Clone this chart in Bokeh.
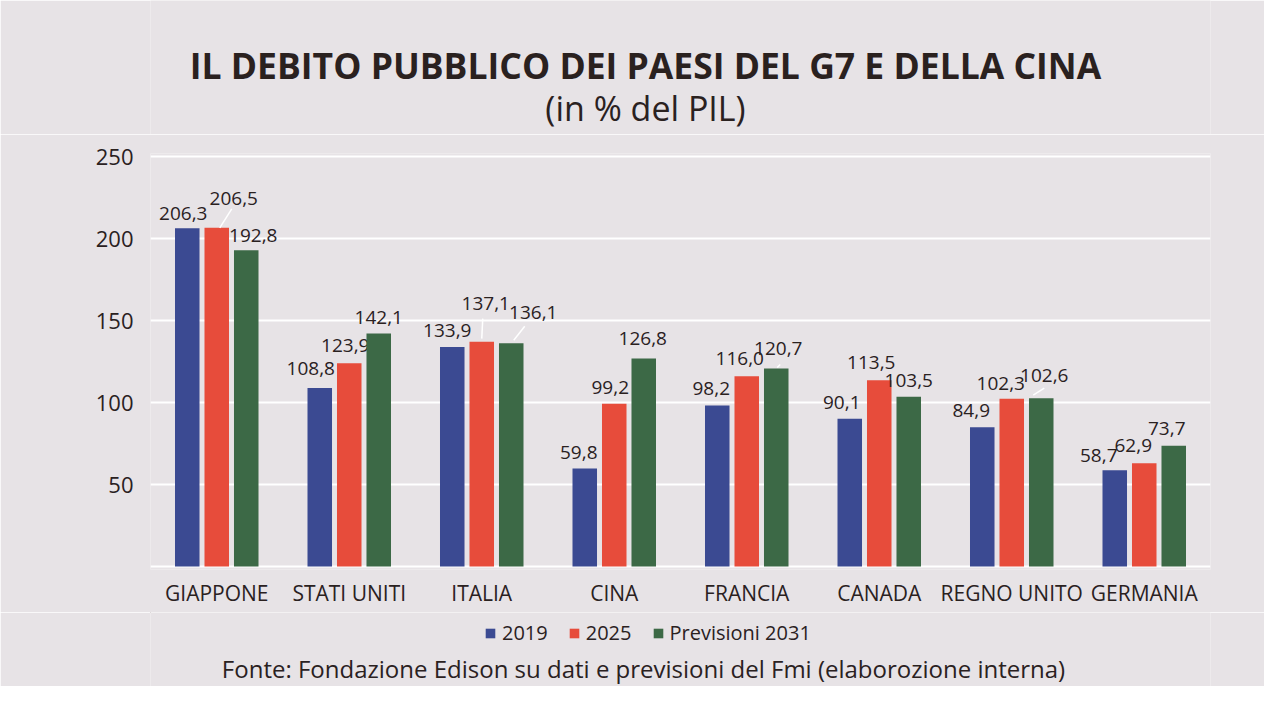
from bokeh.plotting import figure
from bokeh.models import ColumnDataSource, Range1d, FixedTicker, Legend, LegendItem, Label
from bokeh.layouts import column
from bokeh.core.properties import value
from bokeh.embed import file_html
from bokeh.resources import INLINE

# ---------------- data ----------------
countries = ["GIAPPONE", "STATI UNITI", "ITALIA", "CINA", "FRANCIA", "CANADA", "REGNO UNITO", "GERMANIA"]
series_names = ["2019", "2025", "Previsioni 2031"]
debt_2019 = [206.3, 108.8, 133.9, 59.8, 98.2, 90.1, 84.9, 58.7]
debt_2025 = [206.5, 123.9, 137.1, 99.2, 116.0, 113.5, 102.3, 62.9]
debt_2031 = [192.8, 142.1, 136.1, 126.8, 120.7, 103.5, 102.6, 73.7]
y_ticks = [0, 50, 100, 150, 200, 250]

title_text = "IL DEBITO PUBBLICO DEI PAESI DEL G7 E DELLA CINA"
subtitle_text = "(in % del PIL)"
source_text = "Fonte: Fondazione Edison su dati e previsioni del Fmi (elaborozione interna)"

# ---------------- style ----------------
BG = "#e7e3e6"
TXT = "#2a211f"
COLORS = ["#3b4a92", "#e74c3b", "#3c6946"]
FONT = "Open Sans"

W = 1264
H0, H1, H2 = 134, 478, 74                # title strip / main chart / legend+source strip
PAD = 3                                  # px of room around the 0 / 250 gridlines
FL, FR = 150, 54
FT = 156 - H0 - PAD
FB = H0 + H1 - 566 - PAD
FRAME_W = W - FL - FR
FRAME_H = H1 - FT - FB
YMAX = 250
PX_Y = YMAX / (FRAME_H - 2 * PAD)        # data units per px (y)
PX_X = len(countries) / FRAME_W          # data units per px (x)

BAR_OFFSETS = [-0.2226, 0.0, 0.2226]
BAR_WIDTH = 0.185

# label nudges in px (dx right, dy up) relative to default (centered, 16px above bar top)
NUDGES = [
    [(-4, -1), (-9, 4), (-5, 0), (-6, 0), (-6, 1), (-8, 0), (-11, 1), (-16, -1)],
    [(17, 13), (-4, 2), (4, 22), (-4, 0), (-7, 2), (-8, 2), (-11, -1), (-11, 2)],
    [(7, -1), (0, 0), (22, 15), (-1, 4), (2, 4), (0, 0), (3, 7), (-7, 1)],
]
# leader lines: (series, country, dx0, dy0, dx1, dy1) in px from bar top center
LEADERS = [
    (1, 0, 3, 0, 15, 19),
    (1, 2, 0, 3, 1, 23),
    (2, 2, 2.5, 3, 13.5, 17),
    (2, 4, 1, 1, 4, 4),
    (2, 6, -8, 3, 3, 10),
]


def strip(height, top):
    """A text-only band whose frame spans the chart frame columns; data x/y == page px."""
    f = figure(width=W, height=height, output_backend="svg", toolbar_location=None,
               x_range=Range1d(FL, W - FR), y_range=Range1d(top + height, top),
               x_axis_type=None, y_axis_type=None,
               min_border_left=FL, min_border_right=FR, min_border_top=0, min_border_bottom=0)
    f.background_fill_color = BG
    f.border_fill_color = BG
    f.outline_line_color = None
    f.grid.visible = False
    return f


# ---------------- title strip ----------------
p0 = strip(H0, 0)
p0.add_layout(Label(x=645, y=64, text=title_text, text_align="center", text_baseline="middle",
                    text_font=FONT, text_font_style="bold", text_font_size="35.5px", text_color=TXT))
p0.add_layout(Label(x=645, y=107, text=subtitle_text, text_align="center", text_baseline="middle",
                    text_font=FONT, text_font_size="34px", text_color=TXT))

# ---------------- main chart ----------------
p = figure(width=W, height=H1, output_backend="svg", toolbar_location=None,
           x_range=Range1d(0, len(countries)),
           y_range=Range1d(-PAD * PX_Y, YMAX + PAD * PX_Y),
           min_border_left=FL, min_border_right=FR, min_border_top=FT, min_border_bottom=FB)
p.background_fill_color = BG
p.border_fill_color = BG
p.outline_line_color = None

centers = [i + 0.5 for i in range(len(countries))]
all_series = [debt_2019, debt_2025, debt_2031]

for s, vals in enumerate(all_series):
    xs = [c + BAR_OFFSETS[s] for c in centers]
    src = ColumnDataSource(dict(
        x=xs, top=vals,
        lbl=[f"{v:.1f}".replace(".", ",") for v in vals],
        xo=[NUDGES[s][i][0] for i in range(len(vals))],
        yo=[-(16 + NUDGES[s][i][1]) for i in range(len(vals))],
    ))
    p.vbar(x="x", top="top", bottom=0, width=BAR_WIDTH, source=src,
           fill_color=COLORS[s], line_color=None)
    p.text(x="x", y="top", text="lbl", source=src, x_offset="xo", y_offset="yo",
           text_align="center", text_baseline="middle", text_font_size="19px",
           text_font=value(FONT), text_color=TXT)

# leader lines
lx0, ly0, lx1, ly1 = [], [], [], []
for s, i, dx0, dy0, dx1, dy1 in LEADERS:
    bx = centers[i] + BAR_OFFSETS[s]
    by = all_series[s][i]
    lx0.append(bx + dx0 * PX_X); ly0.append(by + dy0 * PX_Y)
    lx1.append(bx + dx1 * PX_X); ly1.append(by + dy1 * PX_Y)
p.segment(x0=lx0, y0=ly0, x1=lx1, y1=ly1, line_color="#ffffff", line_width=1.5)

# axes
p.yaxis.ticker = FixedTicker(ticks=y_ticks)
p.yaxis.major_label_overrides = {0: ""}
p.yaxis.axis_line_color = None
p.yaxis.major_tick_line_color = None
p.yaxis.minor_tick_line_color = None
p.yaxis.major_label_standoff = 11
p.yaxis.major_label_text_font = FONT
p.yaxis.major_label_text_font_size = "22px"
p.yaxis.major_label_text_color = TXT

p.xaxis.ticker = FixedTicker(ticks=centers)
p.xaxis.major_label_overrides = {c: n for c, n in zip(centers, countries)}
p.xaxis.axis_line_color = None
p.xaxis.major_tick_line_color = None
p.xaxis.minor_tick_line_color = None
p.xaxis.major_label_standoff = 3
p.xaxis.major_label_text_font = FONT
p.xaxis.major_label_text_font_size = "21px"
p.xaxis.major_label_text_color = TXT

p.xgrid.grid_line_color = None
p.ygrid.ticker = FixedTicker(ticks=y_ticks)
p.ygrid.grid_line_color = "#ffffff"
p.ygrid.grid_line_width = 2
p.ygrid.level = "underlay"

# ---------------- legend + source strip ----------------
p2 = strip(H2, H0 + H1)
legend_renderers = [p2.vbar(x=[-5000], top=[1], width=1, fill_color=c, line_color=None) for c in COLORS]
legend = Legend(items=[LegendItem(label=n, renderers=[r], index=0)
                       for n, r in zip(series_names, legend_renderers)],
                orientation="horizontal", location=(484 - FL, 40),
                glyph_width=12, glyph_height=12, label_standoff=6, spacing=20,
                padding=0, margin=0, border_line_color=None, background_fill_alpha=0,
                label_text_font=FONT, label_text_font_size="20px", label_text_color=TXT,
                label_height=12)
p2.add_layout(legend, "center")

p2.add_layout(Label(x=643, y=668, text=source_text, text_align="center", text_baseline="middle",
                    text_font=FONT, text_font_size="24px", text_color=TXT))

open("out.html", "w").write(file_html(column(p0, p, p2, spacing=0), INLINE))
